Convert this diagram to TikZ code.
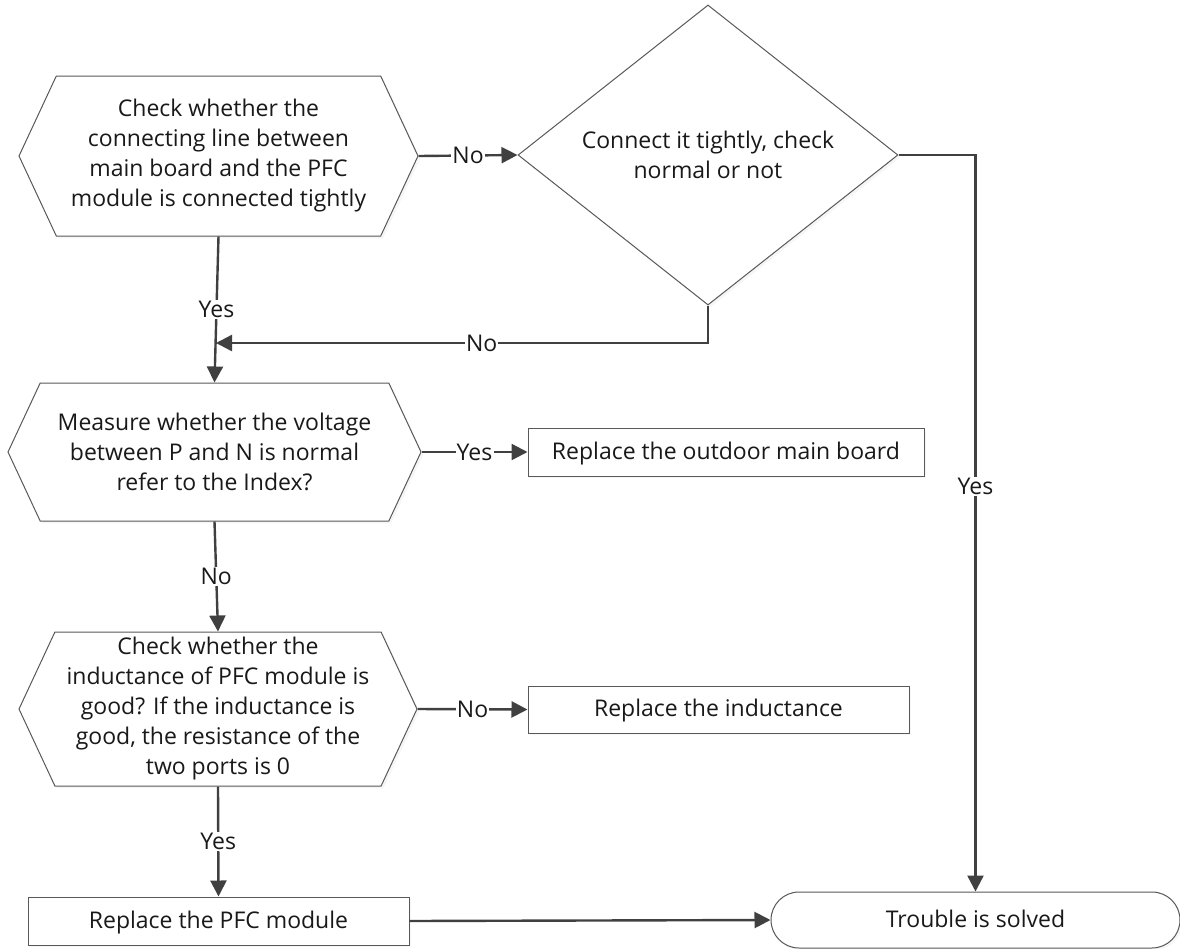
\documentclass[tikz,border=0pt]{standalone}
\usepackage{fontspec}
\setmainfont{Open Sans}
\usetikzlibrary{arrows.meta,shapes.geometric,shapes.symbols,shapes.misc,shadows}

\begin{document}
\begin{tikzpicture}[x=0.5pt,y=-0.5pt,
  font=\fontsize{11.5}{15}\selectfont,
  outline/.style={draw=black!65,line width=0.5pt,fill=white,align=center,inner sep=0pt,
    text=black!90,drop shadow={shadow xshift=1.2pt,shadow yshift=-1.2pt,fill=black!7}},
  hexbox/.style={outline,signal,signal to=west and east,signal pointer angle=130},
  process/.style={outline,rectangle,text height=0.95em,text depth=0.25em},
  decision/.style={outline,diamond},
  stopbox/.style={outline,rounded rectangle,text height=0.95em,text depth=0.25em},
  flow/.style={draw=black!75,line width=1.2pt,-{Triangle[length=8pt,width=8pt]}},
  lbl/.style={fill=white,inner sep=0.6pt,text=black!90}]

\useasboundingbox (0,0) rectangle (1180,949);

% boxes
\node[hexbox,minimum width=199.5pt,minimum height=80pt] (h1) at (218.5,156)
  {Check whether the\\connecting line between\\main board and the PFC\\module is connected tightly};
\node[decision,minimum width=190pt,minimum height=148pt] (d) at (708,155)
  {Connect it tightly, check\\normal or not};
\node[hexbox,minimum width=206.5pt,minimum height=69pt] (h2) at (214.5,452)
  {Measure whether the voltage\\between P and N is normal\\refer to the Index?};
\node[process,minimum width=198pt,minimum height=24pt] (b1) at (726,452)
  {Replace the outdoor main board};
\node[hexbox,minimum width=199pt,minimum height=77pt] (h3) at (218,709)
  {Check whether the\\inductance of PFC module is\\good? If the inductance is\\good, the resistance of the\\two ports is 0};
\node[process,minimum width=190.5pt,minimum height=23.5pt] (b2) at (718.5,709.5)
  {Replace the inductance};
\node[process,minimum width=190.5pt,minimum height=24pt] (pfc) at (218.5,921)
  {Replace the PFC module};
\node[stopbox,minimum width=204.5pt,minimum height=28pt] (t) at (975.5,920)
  {Trouble is solved};

% arrows
\coordinate (m) at (216,343);
\draw[flow] (h1.east) -- node[lbl]{No} (d.west);
\draw[flow] (h1.south) -- node[lbl]{Yes} (h2.north);
\draw[flow] (d.south) -- (d.south |- m) -- node[lbl,pos=0.46]{No} (m);
\draw[flow] (d.east) -- (d.east -| t.north) -- node[lbl,pos=0.45]{Yes} (t.north);
\draw[flow] (h2.east) -- node[lbl]{Yes} (b1.west);
\draw[flow] (h2.south) -- node[lbl]{No} (h3.north);
\draw[flow] (h3.east) -- node[lbl]{No} (b2.west);
\draw[flow] (h3.south) -- node[lbl]{Yes} (pfc.north);
\draw[flow] (pfc.east) -- (t.west);

\end{tikzpicture}
\end{document}
